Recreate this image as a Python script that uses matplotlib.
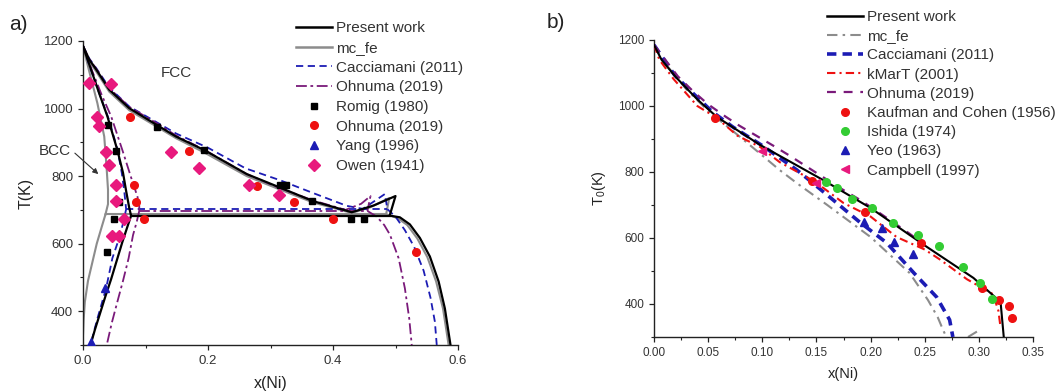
import matplotlib
matplotlib.use("Agg")
import matplotlib.pyplot as plt
from matplotlib.ticker import MultipleLocator, FormatStrFormatter

plt.rcParams['font.family'] = ['Liberation Sans', 'DejaVu Sans']
plt.rcParams['mathtext.default'] = 'regular'

# ---------------- Panel a: Fe-Ni phase diagram ----------------
# Present work
pw_gamma_x = [0, 0.010, 0.021, 0.042, 0.074, 0.122, 0.149, 0.194, 0.262, 0.31, 0.368, 0.43, 0.465, 0.50, 0.491]
pw_gamma_T = [1185, 1145, 1116, 1056, 1001, 947, 917, 877, 806, 770, 726, 693, 713, 741, 685]
pw_alpha_x = [0, 0.012, 0.025, 0.039, 0.055, 0.064, 0.069, 0.074, 0.076, 0.077]
pw_alpha_T = [1185, 1120, 1050, 977, 877, 810, 756, 706, 690, 683]
pw_solvus_x = [0.077, 0.071, 0.063, 0.054, 0.045, 0.036, 0.027, 0.019, 0.012]
pw_solvus_T = [683, 650, 605, 550, 495, 445, 392, 345, 300]
pw_right_x = [0.491, 0.507, 0.523, 0.539, 0.555, 0.569, 0.579, 0.588]
pw_right_T = [683, 678, 657, 617, 562, 488, 408, 300]
pw_eutectoid_x = [0.077, 0.491]
pw_eutectoid_T = [683, 683]

# mc_fe
mc_gamma_x = [0, 0.010, 0.021, 0.042, 0.074, 0.122, 0.149, 0.194, 0.262, 0.31, 0.368, 0.43, 0.46, 0.49, 0.485]
mc_gamma_T = [1185, 1140, 1110, 1050, 995, 942, 912, 870, 800, 764, 722, 691, 708, 735, 687]
mc_alpha_x = [0, 0.010, 0.023, 0.034, 0.038, 0.040, 0.040, 0.036]
mc_alpha_T = [1185, 1110, 1016, 917, 818, 760, 717, 687]
mc_solvus_x = [0.036, 0.030, 0.022, 0.015, 0.008, 0.003, 0.001, 0.0]
mc_solvus_T = [687, 650, 600, 545, 490, 428, 375, 330]
mc_right_x = [0.485, 0.503, 0.519, 0.535, 0.551, 0.565, 0.576, 0.585]
mc_right_T = [687, 676, 655, 615, 560, 488, 408, 300]
mc_eutectoid_x = [0.036, 0.485]
mc_eutectoid_T = [687, 687]

# Cacciamani (2011)
cac_gamma_x = [0, 0.010, 0.021, 0.042, 0.074, 0.122, 0.149, 0.2, 0.26, 0.315, 0.368, 0.422, 0.448, 0.483, 0.487]
cac_gamma_T = [1185, 1148, 1120, 1062, 1006, 955, 926, 884, 823, 788, 750, 712, 703, 747, 702]
cac_alpha_x = [0, 0.012, 0.026, 0.041, 0.055, 0.062, 0.066, 0.069]
cac_alpha_T = [1185, 1118, 1045, 970, 880, 810, 756, 702]
cac_solvus_x = [0.069, 0.064, 0.058, 0.047, 0.037, 0.023, 0.014, 0.011]
cac_solvus_T = [702, 660, 617, 557, 468, 378, 315, 300]
cac_right_x = [0.487, 0.50, 0.515, 0.53, 0.545, 0.556, 0.563, 0.566]
cac_right_T = [702, 680, 640, 590, 520, 440, 369, 300]
cac_eutectoid_x = [0.069, 0.487]
cac_eutectoid_T = [702, 702]

# Ohnuma (2019)
ohn_gamma_x = [0, 0.010, 0.021, 0.042, 0.074, 0.122, 0.149, 0.194, 0.262, 0.31, 0.368, 0.42, 0.445, 0.46, 0.455]
ohn_gamma_T = [1185, 1147, 1118, 1060, 1005, 952, 920, 878, 806, 768, 728, 700, 718, 741, 697]
ohn_alpha_x = [0, 0.015, 0.030, 0.045, 0.063, 0.078, 0.087, 0.090, 0.090]
ohn_alpha_T = [1185, 1110, 1040, 977, 877, 790, 740, 712, 697]
ohn_solvus_x = [0.090, 0.086, 0.080, 0.073, 0.064, 0.055, 0.046, 0.038]
ohn_solvus_T = [697, 665, 625, 557, 490, 428, 365, 300]
ohn_right_x = [0.455, 0.47, 0.482, 0.491, 0.505, 0.515, 0.522, 0.526]
ohn_right_T = [697, 680, 655, 627, 557, 468, 378, 300]
ohn_eutectoid_x = [0.090, 0.455]
ohn_eutectoid_T = [697, 697]

# Experimental data, panel a
romig_x = [0.040, 0.052, 0.058, 0.049, 0.039, 0.118, 0.194, 0.315, 0.325, 0.366, 0.428, 0.449]
romig_T = [950, 873, 724, 674, 575, 945, 877, 774, 774, 726, 672, 672]
ohnuma_exp_x = [0.075, 0.081, 0.085, 0.098, 0.169, 0.278, 0.337, 0.400, 0.533]
ohnuma_exp_T = [975, 775, 724, 674, 875, 771, 724, 672, 575]
yang_x = [0.013, 0.035]
yang_T = [310, 469]
owen_x = [0.009, 0.044, 0.022, 0.025, 0.036, 0.042, 0.053, 0.053, 0.066, 0.046, 0.057, 0.140, 0.185, 0.265, 0.313]
owen_T = [1076, 1073, 975, 949, 872, 833, 775, 726, 672, 624, 624, 872, 825, 774, 744]

# ---------------- Panel b: T0 curves ----------------
b_pw_x = [0, 0.007, 0.02, 0.04, 0.058, 0.098, 0.156, 0.2, 0.252, 0.295, 0.318, 0.320, 0.323]
b_pw_T = [1185, 1140, 1088, 1020, 967, 882, 776, 691, 573, 479, 412, 408, 300]
b_mc_x = [0, 0.01, 0.03, 0.05, 0.08, 0.10, 0.116, 0.132, 0.16, 0.20, 0.236, 0.253, 0.262, 0.267, 0.270]
b_mc_T = [1185, 1130, 1050, 985, 905, 850, 806, 766, 700, 603, 494, 412, 360, 321, 300]
b_mc2_x = [0.290, 0.301]
b_mc2_T = [300, 322]
b_cac_x = [0, 0.019, 0.033, 0.054, 0.073, 0.10, 0.132, 0.152, 0.19, 0.215, 0.24, 0.261, 0.273, 0.276]
b_cac_T = [1185, 1094, 1048, 982, 936, 880, 806, 752, 648, 585, 494, 421, 352, 300]
b_kmart_x = [0, 0.005, 0.018, 0.04, 0.058, 0.077, 0.098, 0.116, 0.141, 0.153, 0.175, 0.2, 0.224, 0.25, 0.264, 0.289, 0.305, 0.313, 0.318, 0.320]
b_kmart_T = [1185, 1140, 1082, 1000, 964, 910, 876, 830, 785, 760, 706, 665, 603, 565, 535, 475, 445, 430, 380, 330]
b_ohn_x = [0, 0.022, 0.036, 0.05, 0.066, 0.079, 0.11, 0.126, 0.144, 0.17, 0.189, 0.202, 0.233, 0.25]
b_ohn_T = [1185, 1090, 1045, 1005, 968, 940, 880, 848, 810, 755, 718, 690, 620, 580]

kaufman_x = [0.056, 0.146, 0.195, 0.247, 0.303, 0.319, 0.328, 0.331]
kaufman_T = [964, 772, 679, 586, 450, 412, 394, 358]
ishida_x = [0.159, 0.169, 0.183, 0.201, 0.221, 0.244, 0.263, 0.285, 0.301, 0.312]
ishida_T = [770, 752, 718, 691, 646, 608, 577, 512, 463, 415]
yeo_x = [0.194, 0.211, 0.222, 0.239]
yeo_T = [648, 630, 588, 552]
campbell_x = [0.100, 0.150]
campbell_T = [863, 767]

# ---------------- styling ----------------
BLACK = '#000000'
GRAY = '#8c8c8c'
BLUE = '#1c1cb4'
PURPLE = '#7a1a7a'
RED = '#ee1111'
GREEN = '#33cc33'
PINK = '#e8197d'

W, H = 1062, 391
fig = plt.figure(figsize=(W / 100, H / 100), dpi=100)
ax_a = fig.add_axes([83 / W, 1 - 345 / H, (458 - 83) / W, (345 - 41) / H])
ax_b = fig.add_axes([654 / W, 1 - 337 / H, (1033 - 654) / W, (337 - 40) / H])


def style_axes(ax, tick_size):
    for s in ('top', 'right'):
        ax.spines[s].set_visible(False)
    for s in ('left', 'bottom'):
        ax.spines[s].set_linewidth(1.0)
        ax.spines[s].set_color('#222222')
    ax.tick_params(which='major', direction='out', length=3.5, width=0.9,
                   labelsize=tick_size, pad=3.5, color='#222222', labelcolor='#333333')
    ax.tick_params(which='minor', direction='out', length=2.2, width=0.8, color='#222222')


# ---- panel a ----
lw_a = 1.5
dash_a = (0, (4, 2.5))
dashdot_a = (0, (6, 2, 1.5, 2))
for xs, ts in [(mc_gamma_x, mc_gamma_T), (mc_alpha_x, mc_alpha_T), (mc_solvus_x, mc_solvus_T),
               (mc_right_x, mc_right_T), (mc_eutectoid_x, mc_eutectoid_T)]:
    ax_a.plot(xs, ts, color=GRAY, lw=lw_a, zorder=2)
for xs, ts in [(cac_gamma_x, cac_gamma_T), (cac_alpha_x, cac_alpha_T), (cac_solvus_x, cac_solvus_T),
               (cac_right_x, cac_right_T), (cac_eutectoid_x, cac_eutectoid_T)]:
    ax_a.plot(xs, ts, color=BLUE, lw=1.3, ls=dash_a, zorder=3)
for xs, ts in [(ohn_gamma_x, ohn_gamma_T), (ohn_alpha_x, ohn_alpha_T), (ohn_solvus_x, ohn_solvus_T),
               (ohn_right_x, ohn_right_T), (ohn_eutectoid_x, ohn_eutectoid_T)]:
    ax_a.plot(xs, ts, color=PURPLE, lw=1.3, ls=dashdot_a, zorder=3)
for xs, ts in [(pw_gamma_x, pw_gamma_T), (pw_alpha_x, pw_alpha_T), (pw_solvus_x, pw_solvus_T),
               (pw_right_x, pw_right_T), (pw_eutectoid_x, pw_eutectoid_T)]:
    ax_a.plot(xs, ts, color=BLACK, lw=1.6, zorder=4)

ax_a.plot(romig_x, romig_T, ls='none', marker='s', ms=5, color=BLACK, zorder=5)
ax_a.plot(ohnuma_exp_x, ohnuma_exp_T, ls='none', marker='o', ms=5.5, color=RED, zorder=5)
ax_a.plot(yang_x, yang_T, ls='none', marker='^', ms=5.5, color=BLUE, zorder=5)
ax_a.plot(owen_x, owen_T, ls='none', marker='D', ms=5.8, color=PINK, zorder=5)

ax_a.set_xlim(0, 0.6)
ax_a.set_ylim(300, 1200)
ax_a.xaxis.set_major_locator(MultipleLocator(0.2))
ax_a.xaxis.set_minor_locator(MultipleLocator(0.1))
ax_a.xaxis.set_major_formatter(FormatStrFormatter('%.1f'))
ax_a.yaxis.set_major_locator(MultipleLocator(200))
ax_a.yaxis.set_minor_locator(MultipleLocator(100))
ax_a.set_yticks([400, 600, 800, 1000, 1200])
style_axes(ax_a, 9.5)
ax_a.set_xlabel('x(Ni)', fontsize=11.5, labelpad=7, color='#222222')
ax_a.set_ylabel('T(K)', fontsize=11.5, labelpad=7, color='#222222')

ax_a.text(0.149, 1105, 'FCC', fontsize=11, ha='center', va='center', color='#333333')
ax_a.text(-0.0445, 873, 'BCC', fontsize=11, ha='center', va='center', color='#333333', clip_on=False)
ax_a.annotate('', xy=(0.0245, 806), xytext=(-0.013, 868),
              arrowprops=dict(arrowstyle='-|>', lw=0.8, color='#333333', mutation_scale=8,
                              shrinkA=0, shrinkB=0),
              annotation_clip=False)

leg_a_handles = [
    plt.Line2D([], [], color=BLACK, lw=1.8),
    plt.Line2D([], [], color=GRAY, lw=1.8),
    plt.Line2D([], [], color=BLUE, lw=1.3, ls=dash_a),
    plt.Line2D([], [], color=PURPLE, lw=1.3, ls=dashdot_a),
    plt.Line2D([], [], ls='none', marker='s', ms=5, color=BLACK),
    plt.Line2D([], [], ls='none', marker='o', ms=5.5, color=RED),
    plt.Line2D([], [], ls='none', marker='^', ms=5.5, color=BLUE),
    plt.Line2D([], [], ls='none', marker='D', ms=5.8, color=PINK),
]
leg_a_labels = ['Present work', 'mc_fe', 'Cacciamani (2011)', 'Ohnuma (2019)',
                'Romig (1980)', 'Ohnuma (2019)', 'Yang (1996)', 'Owen (1941)']
ax_a.legend(leg_a_handles, leg_a_labels, loc='upper left',
            bbox_to_anchor=(296 / W, 1 - 21.5 / H), bbox_transform=fig.transFigure,
            frameon=False, fontsize=11, handlelength=2.35, handletextpad=0.25,
            labelspacing=0.37, borderpad=0, borderaxespad=0, labelcolor='#333333')

# ---- panel b ----
mc_ls_b = (0, (5, 2.5, 1.2, 2.5))
cac_ls_b = (0, (2.6, 1.7))
kmart_ls_b = (0, (4, 2, 1, 2))
ohn_ls_b = (0, (4, 3.5))

ax_b.plot(b_mc_x, b_mc_T, color=GRAY, lw=1.5, ls=mc_ls_b, zorder=2)
ax_b.plot(b_mc2_x, b_mc2_T, color=GRAY, lw=1.5, ls=mc_ls_b, zorder=2)
ax_b.plot(b_cac_x, b_cac_T, color=BLUE, lw=2.6, ls=cac_ls_b, zorder=3)
ax_b.plot(b_kmart_x, b_kmart_T, color=RED, lw=1.5, ls=kmart_ls_b, zorder=3)
ax_b.plot(b_ohn_x, b_ohn_T, color=PURPLE, lw=1.6, ls=ohn_ls_b, zorder=3)
ax_b.plot(b_pw_x, b_pw_T, color=BLACK, lw=1.5, zorder=4)

ax_b.plot(kaufman_x, kaufman_T, ls='none', marker='o', ms=5.5, color=RED, zorder=5)
ax_b.plot(ishida_x, ishida_T, ls='none', marker='o', ms=5.5, color=GREEN, zorder=5)
ax_b.plot(yeo_x, yeo_T, ls='none', marker='^', ms=5.5, color=BLUE, zorder=5)
ax_b.plot(campbell_x, campbell_T, ls='none', marker='<', ms=6, color=PINK, zorder=5)

ax_b.set_xlim(0, 0.35)
ax_b.set_ylim(300, 1200)
ax_b.xaxis.set_major_locator(MultipleLocator(0.05))
ax_b.xaxis.set_minor_locator(MultipleLocator(0.025))
ax_b.xaxis.set_major_formatter(FormatStrFormatter('%.2f'))
ax_b.yaxis.set_minor_locator(MultipleLocator(100))
ax_b.set_yticks([400, 600, 800, 1000, 1200])
style_axes(ax_b, 8.5)
ax_b.set_xlabel('x(Ni)', fontsize=10.5, labelpad=6, color='#222222')
ax_b.set_ylabel('T$_0$(K)', fontsize=10.5, labelpad=7, color='#222222')

leg_b_handles = [
    plt.Line2D([], [], color=BLACK, lw=1.8),
    plt.Line2D([], [], color=GRAY, lw=1.5, ls=mc_ls_b),
    plt.Line2D([], [], color=BLUE, lw=2.6, ls=cac_ls_b),
    plt.Line2D([], [], color=RED, lw=1.5, ls=kmart_ls_b),
    plt.Line2D([], [], color=PURPLE, lw=1.6, ls=ohn_ls_b),
    plt.Line2D([], [], ls='none', marker='o', ms=5.5, color=RED),
    plt.Line2D([], [], ls='none', marker='o', ms=5.5, color=GREEN),
    plt.Line2D([], [], ls='none', marker='^', ms=5.5, color=BLUE),
    plt.Line2D([], [], ls='none', marker='<', ms=6, color=PINK),
]
leg_b_labels = ['Present work', 'mc_fe', 'Cacciamani (2011)', 'kMarT (2001)', 'Ohnuma (2019)',
                'Kaufman and Cohen (1956)', 'Ishida (1974)', 'Yeo (1963)', 'Campbell (1997)']
ax_b.legend(leg_b_handles, leg_b_labels, loc='upper left',
            bbox_to_anchor=(827 / W, 1 - 10 / H), bbox_transform=fig.transFigure,
            frameon=False, fontsize=11, handlelength=2.35, handletextpad=0.25,
            labelspacing=0.34, borderpad=0, borderaxespad=0, labelcolor='#333333')

# panel tags
fig.text(9 / W, 1 - 24 / H, 'a)', fontsize=15, ha='left', va='center', color='#222222')
fig.text(547 / W, 1 - 22 / H, 'b)', fontsize=15, ha='left', va='center', color='#222222')

fig.savefig('out.png', dpi=100)
